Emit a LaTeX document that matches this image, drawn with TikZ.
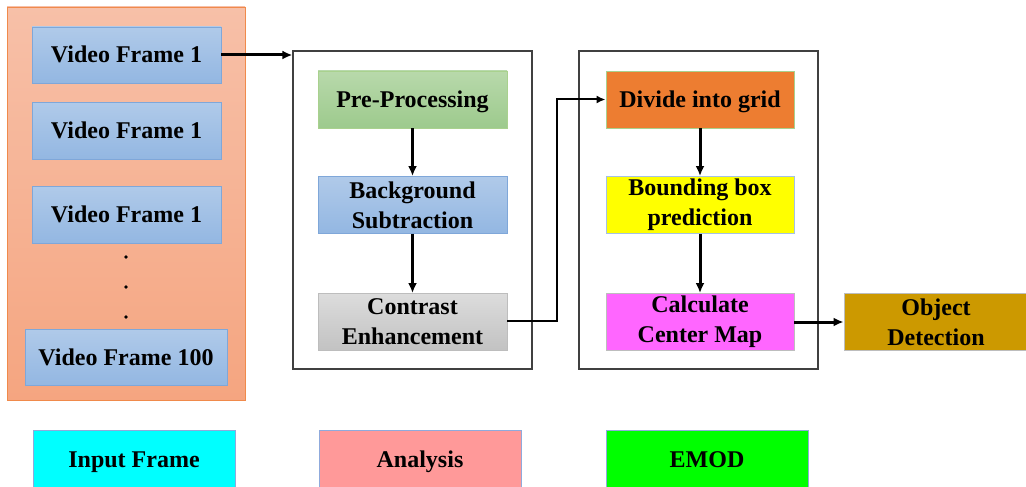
\documentclass[tikz,border=0pt]{standalone}
\usepackage{fontspec}
\setmainfont{Liberation Serif}
\usetikzlibrary{arrows.meta}
\definecolor{frameTop}{HTML}{F7C0A8}
\definecolor{frameBot}{HTML}{F5A580}
\definecolor{frameLine}{HTML}{F08A4B}
\definecolor{blueTop}{HTML}{B0CAE9}
\definecolor{blueBot}{HTML}{93B7E2}
\definecolor{blueLine}{HTML}{7FA7D9}
\definecolor{greenTop}{HTML}{B8D9AB}
\definecolor{greenBot}{HTML}{9DCA8D}
\definecolor{greenLine}{HTML}{A9D18E}
\definecolor{grayTop}{HTML}{DCDCDC}
\definecolor{grayBot}{HTML}{C2C2C2}
\definecolor{grayLine}{HTML}{BDBDBD}
\definecolor{gridOrange}{HTML}{ED7D31}
\definecolor{predYellow}{HTML}{FFFF00}
\definecolor{centerMag}{HTML}{FF66FF}
\definecolor{objGold}{HTML}{CC9900}
\definecolor{legCyan}{HTML}{00FFFF}
\definecolor{legPink}{HTML}{FF9999}
\definecolor{legGreen}{HTML}{00FF00}
\definecolor{legLine}{HTML}{8FAADC}
\tikzset{
  lbl/.style={font=\fontsize{24}{30}\selectfont\bfseries, align=center, inner sep=0pt},
  box/.style={lbl, rectangle, line width=0.9pt},
  oneline/.style={text height=16pt, text depth=0pt},
  bluebox/.style={box, top color=blueTop, bottom color=blueBot, draw=blueLine},
  stagebox/.style={draw=black!75, line width=1.3pt, fill=white},
  flow/.style={line width=3pt, -{Latex[length=10pt,width=9pt]}},
}
\begin{document}
\begin{tikzpicture}[x=1pt,y=-1pt]
\useasboundingbox (0,0) rectangle (1026,487);

% input frame stack
\draw[frameLine, line width=0.9pt, top color=frameTop, bottom color=frameBot] (7,7) rectangle (245,400);
\node[bluebox, oneline, minimum width=189pt, minimum height=56pt] (vf1) at (126.5,55) {Video Frame 1};
\node[bluebox, oneline, minimum width=189pt, minimum height=57pt] (vf2) at (126.5,130.5) {Video Frame 1};
\node[bluebox, oneline, minimum width=189pt, minimum height=57pt] (vf3) at (126.5,214.5) {Video Frame 1};
\foreach \yy/\nm in {257/d1,287/d2,317/d3}
  \node[circle, fill=black, inner sep=0pt, minimum size=3.8pt] (\nm) at (126,\yy) {};
\node[bluebox, oneline, minimum width=202pt, minimum height=56pt] (vf100) at (126,357) {Video Frame 100};

% analysis stage
\node[stagebox, minimum width=239pt, minimum height=318pt] (ana) at (412.5,210) {};
\node[box, oneline, top color=greenTop, bottom color=greenBot, draw=greenLine, minimum width=189pt, minimum height=57pt] (pre) at (412.5,99.5) {Pre-Processing};
\node[bluebox, minimum width=189pt, minimum height=57pt] (bg) at (412.5,205) {Background\\Subtraction};
\node[box, top color=grayTop, bottom color=grayBot, draw=grayLine, minimum width=189pt, minimum height=57pt] (ce) at (412.5,322) {Contrast\\Enhancement};

% EMOD stage
\node[stagebox, minimum width=239pt, minimum height=318pt] (emod) at (698.5,210) {};
\node[box, oneline, fill=gridOrange, draw=greenLine, minimum width=188pt, minimum height=57pt] (grid) at (700,99.5) {Divide into grid};
\node[box, fill=predYellow, draw=blueLine!70, minimum width=188pt, minimum height=57pt] (bbox) at (700,205) {Bounding box\\prediction};
\node[box, fill=centerMag, draw=grayLine, minimum width=188pt, minimum height=57pt] (cmap) at (700,322) {Calculate\\Center Map};
\node[box, fill=objGold, draw=grayLine, minimum width=184pt, minimum height=57pt] (obj) at (936,322) {Object\\Detection};

% legend
\node[box, oneline, fill=legCyan, draw=legLine, minimum width=202pt, minimum height=57pt] (lgin) at (134,459) {Input Frame};
\node[box, oneline, fill=legPink, draw=legLine, minimum width=202pt, minimum height=57pt] (lgan) at (420,459) {Analysis};
\node[box, oneline, fill=legGreen, draw=legLine, minimum width=202pt, minimum height=57pt] (lgem) at (707,459) {EMOD};

% connectors
\draw[flow] (vf1.east) -- (vf1.east -| ana.west);
\draw[flow] (pre.south) -- (bg.north);
\draw[flow] (bg.south) -- (ce.north);
\coordinate (bend) at (557,320.5);
\draw[line width=2pt, -{Latex[length=9pt,width=8pt]}] (ce.east |- bend) -- (bend) |- (grid.west);
\draw[flow] (grid.south) -- (bbox.north);
\draw[flow] (bbox.south) -- (cmap.north);
\draw[flow] (cmap.east) -- (obj.west);
\end{tikzpicture}
\end{document}
